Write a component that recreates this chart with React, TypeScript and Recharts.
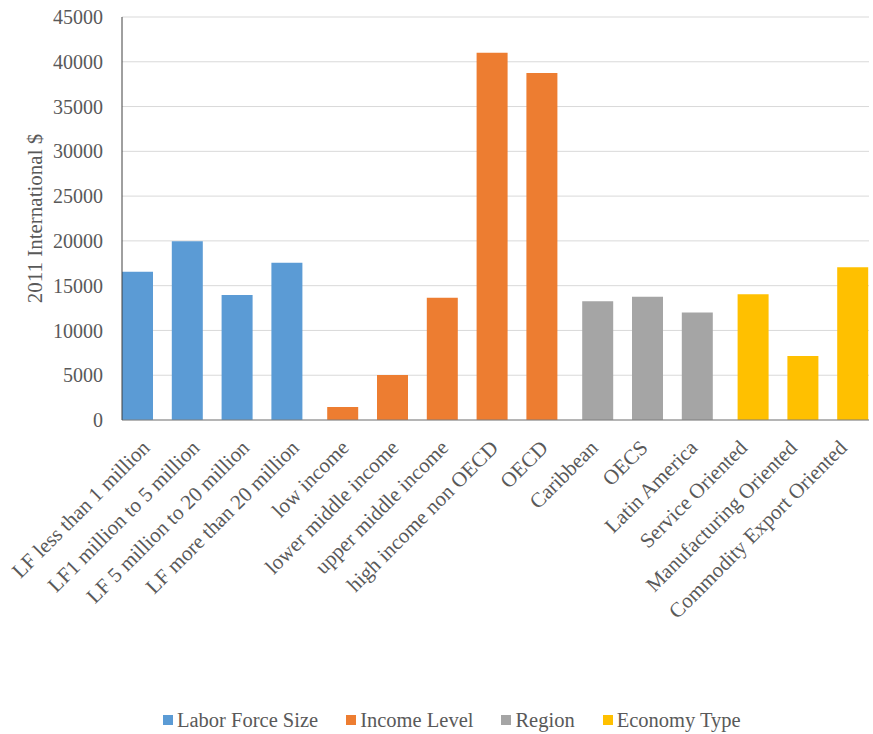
import { FC, JSX } from "react";
import {
  Bar,
  BarChart,
  CartesianGrid,
  Legend,
  XAxis,
  YAxis,
} from "recharts";

// category labels, grouped in order: labor force, income, region, economy
const laborForceLabels = [
  "LF less than 1 million",
  "LF1 million to 5 million",
  "LF 5 million to 20 million",
  "LF more than 20 million",
];
const incomeLabels = [
  "low income",
  "lower middle income",
  "upper middle income",
  "high income non OECD",
  "OECD",
];
const regionLabels = ["Caribbean", "OECS", "Latin America"];
const economyLabels = [
  "Service Oriented",
  "Manufacturing Oriented",
  "Commodity Export Oriented",
];

// values in 2011 international $
const laborForceSize = [16550, 19950, 13950, 17550];
const incomeLevel = [1450, 5030, 13650, 41000, 38750];
const region = [13250, 13750, 12000];
const economyType = [14050, 7150, 17050];

const yTicks = [0, 5000, 10000, 15000, 20000, 25000, 30000, 35000, 40000, 45000];

const FONT = "'Liberation Serif', 'Times New Roman', serif";
const TEXT = "#595959";

const series = [
  { key: "lf", name: "Labor Force Size", color: "#5B9BD5", labels: laborForceLabels, values: laborForceSize },
  { key: "income", name: "Income Level", color: "#ED7D31", labels: incomeLabels, values: incomeLevel },
  { key: "region", name: "Region", color: "#A5A5A5", labels: regionLabels, values: region },
  { key: "econ", name: "Economy Type", color: "#FFC000", labels: economyLabels, values: economyType },
];

// one row per category, only its own group's key is filled
const rows = series.flatMap((s) =>
  s.labels.map((label, i) => ({ name: label, [s.key]: s.values[i] }))
);

const XTick = (props: any): JSX.Element => {
  const { x, y, payload } = props;
  return (
    <g transform={`translate(${x + 4},${y + 27}) rotate(-45)`}>
      <text
        x={0}
        y={0}
        textAnchor="end"
        fill={TEXT}
        fontSize={21}
        fontFamily={FONT}
      >
        {payload.value}
      </text>
    </g>
  );
};

const YTitle = (props: any): JSX.Element => {
  const { viewBox } = props;
  const cx = viewBox.x + 35;
  const cy = viewBox.y + viewBox.height / 2;
  return (
    <text
      x={cx}
      y={cy}
      transform={`rotate(-90, ${cx}, ${cy})`}
      textAnchor="middle"
      dominantBaseline="central"
      fill={TEXT}
      fontSize={21}
      fontFamily={FONT}
    >
      2011 International $
    </text>
  );
};

const LegendBox = (): JSX.Element => (
  <div
    style={{
      display: "flex",
      alignItems: "center",
      height: 28,
      paddingLeft: 163,
      fontFamily: FONT,
      fontSize: 20.5,
      color: TEXT,
    }}
  >
    {series.map((s) => (
      <div
        key={s.key}
        style={{ display: "flex", alignItems: "center", marginRight: 28 }}
      >
        <span
          style={{
            width: 10,
            height: 10,
            background: s.color,
            marginRight: 4,
            display: "inline-block",
          }}
        />
        <span>{s.name}</span>
      </div>
    ))}
  </div>
);

const App: FC = (): JSX.Element => {
  return (
    <div style={{ position: "absolute", left: 0, top: 0, background: "#fff" }}>
      <BarChart
        width={873}
        height={734}
        data={rows}
        margin={{ top: 17, right: 4, left: 0, bottom: 0 }}
        barSize={31}
        barGap={-25}
        barCategoryGap={0}
      >
        <CartesianGrid vertical={false} stroke="#d9d9d9" />
        <XAxis
          dataKey="name"
          interval={0}
          height={286}
          tickLine={false}
          tickSize={0}
          axisLine={{ stroke: "#7f7f7f" }}
          tick={<XTick />}
        />
        <YAxis
          width={122}
          domain={[0, 45000]}
          ticks={yTicks}
          tickLine={false}
          tickSize={0}
          tickMargin={19}
          axisLine={{ stroke: "#404040" }}
          tick={{ fill: TEXT, fontSize: 20, fontFamily: FONT }}
          label={<YTitle />}
        />
        <Legend
          verticalAlign="bottom"
          content={<LegendBox />}
          wrapperStyle={{ left: 0, width: 873 }}
        />
        {series.map((s) => (
          <Bar
            key={s.key}
            dataKey={s.key}
            name={s.name}
            fill={s.color}
            isAnimationActive={false}
          />
        ))}
      </BarChart>
    </div>
  );
};

export default App;
